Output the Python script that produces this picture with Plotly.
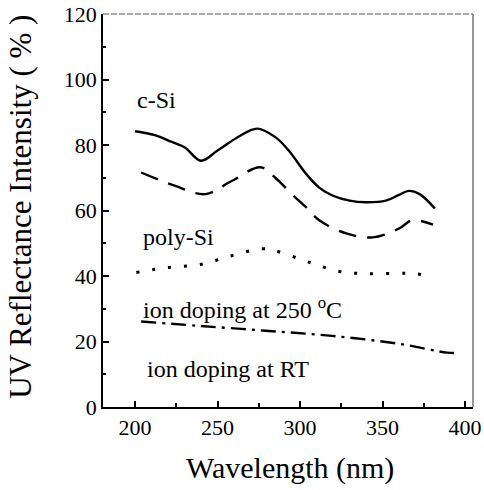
import plotly.graph_objects as go

csi_x = [200, 212, 222, 230, 240, 250, 262, 274, 285, 293, 303.5, 311.6, 320, 330, 340, 352, 360, 366, 372.5, 381.7]
csi_y = [84.2, 83.0, 81.0, 79.3, 75.2, 78.3, 82.3, 85.0, 82.4, 78.4, 71.3, 67.0, 64.5, 63.0, 62.5, 63.0, 64.8, 66.0, 65.0, 60.6]

poly_x = [203.7, 224, 242.6, 258.5, 276, 285, 295, 303.6, 311.6, 328, 344, 360, 368, 380.6]
poly_y = [71.6, 67.6, 65.0, 69.0, 73.2, 70.0, 65.0, 61.0, 57.0, 53.0, 51.8, 54.5, 57.0, 55.7]

ion250_x = [200.8, 220, 239.5, 258.5, 277, 285, 305.5, 323.8, 340, 370, 380.5]
ion250_y = [41.1, 42.6, 43.5, 46.2, 48.3, 47.7, 44.2, 41.4, 40.7, 40.7, 39.6]

ionrt_x = [203.7, 238, 279, 319.5, 360, 389, 396]
ionrt_y = [26.1, 24.8, 23.3, 21.7, 19.3, 16.6, 16.5]

labels = ["c-Si", "poly-Si", "ion doping at 250 <sup>o</sup>C", "ion doping at RT"]
label_x = [200, 203.5, 203.5, 206]
label_y = [93.7, 52.0, 30.3, 11.6]

x_ticks = [200, 250, 300, 350, 400]
y_ticks = [0, 20, 40, 60, 80, 100, 120]

x_title = "Wavelength (nm)"
y_title = "UV Reflectance Intensity ( % )"

FONT = "Liberation Serif"

fig = go.Figure()
fig.add_trace(go.Scatter(x=csi_x, y=csi_y, mode="lines", line=dict(color="black", width=2.4, shape="spline")))
fig.add_trace(go.Scatter(x=poly_x, y=poly_y, mode="lines", line=dict(color="black", width=2.4, dash="18px,11px", shape="spline")))
fig.add_trace(go.Scatter(x=ion250_x, y=ion250_y, mode="lines", line=dict(color="black", width=3, dash="3px,13px", shape="spline")))
fig.add_trace(go.Scatter(x=ionrt_x, y=ionrt_y, mode="lines", line=dict(color="black", width=2.4, dash="15px,6px,3px,6px", shape="spline")))

for t, x, y in zip(labels, label_x, label_y):
    fig.add_annotation(x=x, y=y, text=t, showarrow=False, xanchor="left", yanchor="middle",
                       font=dict(family=FONT, size=24, color="black"))

# axis titles
fig.add_annotation(xref="paper", yref="paper", x=0.505, y=-0.155, text=x_title, showarrow=False,
                   xanchor="center", yanchor="middle", font=dict(family=FONT, size=30, color="black"))
fig.add_annotation(xref="paper", yref="paper", x=-0.222, y=0.509, text=y_title, showarrow=False, textangle=-90,
                   xanchor="center", yanchor="middle", font=dict(family=FONT, size=31, color="black"))

# thin top and right frame edges
fig.add_shape(type="line", xref="x domain", yref="y domain", x0=0, x1=1, y0=1, y1=1,
              line=dict(color="#555", width=1, dash="6px,2px"))
fig.add_shape(type="line", xref="x domain", yref="y domain", x0=1, x1=1, y0=0, y1=1,
              line=dict(color="#333", width=1))

fig.update_layout(
    width=484, height=490,
    margin=dict(l=103, r=11, t=14, b=83),
    paper_bgcolor="white", plot_bgcolor="white",
    showlegend=False,
    font=dict(family=FONT, color="black"),
)
fig.update_xaxes(range=[180.6, 404.8], tickvals=x_ticks, ticks="inside", ticklen=6, tickcolor="black", tickwidth=1.5,
                 showline=True, linecolor="black", linewidth=1.8, mirror=False, showgrid=False, zeroline=False,
                 automargin=False, ticklabelstandoff=0, ticklabeloverflow="allow",
                 minor=dict(dtick=25, tick0=0, ticks="inside", ticklen=4, tickcolor="black"),
                 tickfont=dict(family=FONT, size=22))
fig.update_yaxes(range=[0, 120], tickvals=y_ticks, ticks="inside", ticklen=6, tickcolor="black", tickwidth=1.5,
                 showline=True, linecolor="black", linewidth=1.8, mirror=False, showgrid=False, zeroline=False,
                 automargin=False, ticklabelstandoff=0, ticklabeloverflow="allow",
                 minor=dict(dtick=10, tick0=0, ticks="inside", ticklen=3, tickcolor="black"),
                 tickfont=dict(family=FONT, size=22))

fig.write_html("out.html", config={"displayModeBar": False},
               post_script="document.body.style.margin='0px';")
